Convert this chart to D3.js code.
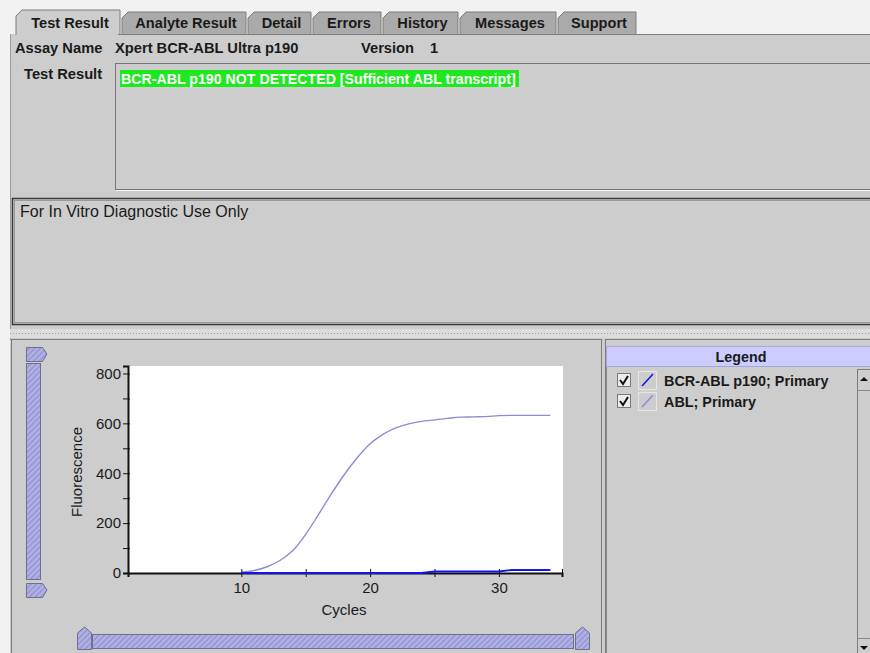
<!DOCTYPE html>
<html>
<head>
<meta charset="utf-8">
<script src="https://cdn.jsdelivr.net/npm/d3@7"></script>
<style>
	body { margin: 0; background: #f2f2f2; }
	svg text { font-family: "Liberation Sans", Arial, sans-serif; fill: #1a1a1a; }
</style>
</head>
<body>
<div id="chart"></div>
<script>
// ********** DATA **********

// Tabs across the top
const tabNames = ['Test Result', 'Analyte Result', 'Detail', 'Errors', 'History', 'Messages', 'Support'];
const tabEdges = [16, 122, 248, 313, 383, 460, 558, 638];

// Cycles and fluorescence
const cycles = [10, 11, 12, 13, 14, 15, 16, 17, 18, 19, 20, 21, 22, 23, 24, 25, 26, 27, 28, 29, 30, 31, 32, 33, 34];
const ablValues = [3, 10, 25, 50, 90, 155, 235, 318, 395, 462, 518, 556, 582, 598, 608, 614, 620, 625, 626, 627, 631, 632, 632, 632, 632];
const bcrValues = [0, 0, 0, 0, 0, 0, 0, 0, 0, 0, 0, 0, 0, 0, 0, 6, 6, 6, 6, 6, 6, 12, 12, 12, 12];

// Axis ticks
const yTicks = [0, 100, 200, 300, 400, 500, 600, 700, 800];
const xTicks = [10, 15, 20, 25, 30, 34.9];

// Legend entries
const legendNames = ['BCR-ABL p190; Primary', 'ABL; Primary'];
const legendColors = ['#1414f0', '#8c8cd8'];

// ********** DRAWING **********

const width = 870, height = 653;
const panelGrey = '#cdcdcd';

const svg = d3.select('#chart')
	.append('svg')
	.attr('width', width)
	.attr('height', height);

// Hatch pattern for the slider thumbs and tracks
const defs = svg.append('defs');
const hatch = defs.append('pattern')
	.attr('id', 'hatch')
	.attr('patternUnits', 'userSpaceOnUse')
	.attr('width', 4)
	.attr('height', 4)
	.attr('patternTransform', 'rotate(45)');
hatch.append('rect').attr('width', 4).attr('height', 4).attr('fill', '#9a9ad6');
hatch.append('rect').attr('width', 2).attr('height', 4).attr('fill', '#b2b2e6');

// Outer background and main panel
svg.append('rect').attr('width', width).attr('height', height).attr('fill', '#f2f2f2');
svg.append('rect').attr('x', 10).attr('y', 34).attr('width', width - 10).attr('height', height - 34).attr('fill', panelGrey);

// Tabs
const tabs = svg.append('g').attr('class', 'tabs');
tabNames.forEach((name, i) => {
	const x0 = tabEdges[i], x1 = tabEdges[i + 1] - 2;
	const selected = i === 0;
	const yt = selected ? 10 : 12;
	tabs.append('path')
		.attr('d', `M${x0},35 L${x0},${yt + 6} L${x0 + 6},${yt} L${x1},${yt} L${x1},35`)
		.attr('fill', selected ? panelGrey : '#aaaaaa')
		.attr('stroke', '#7c7c7c');
	tabs.append('text')
		.attr('x', (x0 + x1) / 2 + 2)
		.attr('y', 28)
		.attr('text-anchor', 'middle')
		.style('font-size', '14.6px')
		.style('font-weight', 'bold')
		.text(name);
});
svg.append('line').attr('x1', 118).attr('x2', width).attr('y1', 34.5).attr('y2', 34.5).attr('stroke', '#7c7c7c');
svg.append('line').attr('x1', 10.5).attr('x2', 10.5).attr('y1', 34).attr('y2', 340).attr('stroke', '#9a9a9a');

// Header fields
const label = (x, y, txt, bold, size) => svg.append('text')
	.attr('x', x).attr('y', y)
	.style('font-size', size + 'px')
	.style('font-weight', bold ? 'bold' : 'normal')
	.text(txt);
label(15, 53, 'Assay Name', true, 14.7);
label(115, 53, 'Xpert BCR-ABL Ultra p190', true, 14.7);
label(361, 53, 'Version', true, 14.7);
label(430, 53, '1', true, 14.7);
label(24, 79, 'Test Result', true, 14.7);

// Result box
svg.append('rect').attr('x', 115.5).attr('y', 63.5).attr('width', 770).attr('height', 126)
	.attr('fill', panelGrey).attr('stroke', '#767676');
svg.append('line').attr('x1', 116).attr('x2', width).attr('y1', 190.5).attr('y2', 190.5).attr('stroke', '#f4f4f4');
svg.append('rect').attr('x', 120).attr('y', 70).attr('width', 399).attr('height', 17).attr('fill', '#1ee81e');
svg.append('text')
	.attr('x', 121).attr('y', 83.5)
	.style('font-size', '14.2px').style('font-weight', 'bold')
	.style('fill', '#ffffff')
	.text('BCR-ABL p190 NOT DETECTED [Sufficient ABL transcript]');

// Notes box
svg.append('rect').attr('x', 12.5).attr('y', 198.5).attr('width', 870).attr('height', 126)
	.attr('fill', panelGrey).attr('stroke', '#3a3a3a').attr('stroke-width', 1.5);
svg.append('rect').attr('x', 14.5).attr('y', 200.5).attr('width', 870).attr('height', 122)
	.attr('fill', 'none').attr('stroke', '#9a9a9a');
label(20, 217, 'For In Vitro Diagnostic Use Only', false, 16);

// Splitter
svg.append('rect').attr('x', 10).attr('y', 329).attr('width', width - 10).attr('height', 9).attr('fill', '#dcdcdc');
svg.append('line').attr('x1', 10).attr('x2', width).attr('y1', 333.5).attr('y2', 333.5)
	.attr('stroke', '#9c9c9c').attr('stroke-dasharray', '1,2');

// Bottom panels
svg.append('rect').attr('x', 11.5).attr('y', 339.5).attr('width', 590).attr('height', 320)
	.attr('fill', panelGrey).attr('stroke', '#7c7c7c');
svg.append('rect').attr('x', 605.5).attr('y', 339.5).attr('width', 270).attr('height', 320)
	.attr('fill', panelGrey).attr('stroke', '#7c7c7c');

// ---------- Chart ----------
const plot = { left: 128, right: 563, top: 366, bottom: 573 };

const xScale = d3.scaleLinear().domain([1.2, 34.9]).range([plot.left, 562]);
const yScale = d3.scaleLinear().domain([0, 830]).range([plot.bottom, plot.top]);

svg.append('rect')
	.attr('x', plot.left).attr('y', plot.top)
	.attr('width', plot.right - plot.left).attr('height', plot.bottom - plot.top)
	.attr('fill', '#ffffff');

const chartData = cycles.map((c, i) => ({ cycle: c, abl: ablValues[i], bcr: bcrValues[i] }));

const line = (key, curve) => d3.line()
	.curve(curve)
	.x(d => xScale(d.cycle))
	.y(d => yScale(d[key]));

// ABL (light) then BCR-ABL (dark) on top
svg.append('path').datum(chartData)
	.attr('d', line('abl', d3.curveMonotoneX))
	.attr('fill', 'none').attr('stroke', legendColors[1]).attr('stroke-width', 1.4);

// Axes
const yAxis = d3.axisLeft(yScale)
	.tickValues(yTicks)
	.tickSizeOuter(0)
	.tickSize(5)
	.tickFormat(d => d % 200 === 0 ? d : '');
const yG = svg.append('g')
	.attr('transform', `translate(${plot.left}, 0)`)
	.call(yAxis);
yG.selectAll('.tick line').attr('x1', 2).attr('x2', -5).attr('stroke', '#111');
yG.select('.domain').attr('stroke', '#111').attr('stroke-width', 2);
yG.selectAll('.tick text').style('font-size', '15px').attr('x', -7);

const xAxis = d3.axisBottom(xScale)
	.tickValues(xTicks)
	.tickSizeOuter(0)
	.tickSize(4)
	.tickFormat(d => d % 10 === 0 ? d : '');
const xG = svg.append('g')
	.attr('transform', `translate(0, ${plot.bottom})`)
	.call(xAxis);
xG.selectAll('.tick line').attr('y1', -4).attr('y2', 4).attr('stroke', '#111');
xG.select('.domain').attr('stroke', '#111').attr('stroke-width', 2);
xG.selectAll('.tick text').style('font-size', '15px').attr('y', 9);

svg.append('path').datum(chartData)
	.attr('d', line('bcr', d3.curveLinear))
	.attr('fill', 'none').attr('stroke', legendColors[0]).attr('stroke-width', 1.8);

// Axis labels
svg.append('text')
	.attr('transform', 'rotate(-90)')
	.attr('x', -472).attr('y', 82)
	.attr('text-anchor', 'middle')
	.style('font-size', '15px')
	.text('Fluorescence');
svg.append('text')
	.attr('x', 344).attr('y', 615)
	.attr('text-anchor', 'middle')
	.style('font-size', '15px')
	.text('Cycles');

// ---------- Sliders ----------
const thumbStyle = sel => sel.attr('fill', 'url(#hatch)').attr('stroke', '#6e6e8e');

// Vertical slider
svg.append('path').attr('d', 'M26.5,347.5 L42.5,347.5 L47,354 L42.5,361.5 L26.5,361.5 Z').call(thumbStyle);
svg.append('rect').attr('x', 26.5).attr('y', 363.5).attr('width', 14).attr('height', 216).call(thumbStyle);
svg.append('path').attr('d', 'M26.5,583.5 L42.5,583.5 L47,590 L42.5,597.5 L26.5,597.5 Z').call(thumbStyle);

// Horizontal slider
svg.append('path').attr('d', 'M77.5,649.5 L77.5,633 L84.5,627 L91.5,633 L91.5,649.5 Z').call(thumbStyle);
svg.append('rect').attr('x', 92.5).attr('y', 634.5).attr('width', 481).attr('height', 14).call(thumbStyle);
svg.append('path').attr('d', 'M575.5,649.5 L575.5,633 L582.5,627 L589.5,633 L589.5,649.5 Z').call(thumbStyle);

// ---------- Legend ----------
svg.append('rect').attr('x', 606.5).attr('y', 346.5).attr('width', 270).attr('height', 20)
	.attr('fill', '#ccccff').attr('stroke', '#a8a8d8');
svg.append('text')
	.attr('x', 741).attr('y', 362)
	.attr('text-anchor', 'middle')
	.style('font-size', '14.3px').style('font-weight', 'bold')
	.text('Legend');
svg.append('line').attr('x1', 606.5).attr('x2', 606.5).attr('y1', 367).attr('y2', height).attr('stroke', '#8a8a8a');

const legendRows = svg.append('g').attr('class', 'legend')
	.selectAll('g')
	.data(legendNames)
	.enter()
	.append('g')
	.attr('transform', (d, i) => `translate(0, ${i * 21})`);

legendRows.append('rect')
	.attr('x', 617.5).attr('y', 373.5).attr('width', 13).attr('height', 13)
	.attr('fill', '#ececec').attr('stroke', '#7a7a7a');
legendRows.append('path')
	.attr('d', 'M620,380 L623,384 L628,376')
	.attr('fill', 'none').attr('stroke', '#111').attr('stroke-width', 2);
legendRows.append('rect')
	.attr('x', 638.5).attr('y', 371.5).attr('width', 18).attr('height', 18)
	.attr('fill', 'none').attr('stroke', '#e6e6e6');
legendRows.append('line')
	.attr('x1', 642).attr('y1', 386).attr('x2', 653).attr('y2', 374)
	.attr('stroke', (d, i) => legendColors[i]).attr('stroke-width', 1.6);
legendRows.append('text')
	.attr('x', 664).attr('y', 386)
	.style('font-size', '14.4px').style('font-weight', 'bold')
	.text(d => d);

// Scrollbar
svg.append('rect').attr('x', 857.5).attr('y', 369.5).attr('width', 14).attr('height', 290)
	.attr('fill', panelGrey).attr('stroke', '#7c7c7c');
svg.append('line').attr('x1', 858).attr('x2', width).attr('y1', 390.5).attr('y2', 390.5).attr('stroke', '#8a8a8a');
svg.append('line').attr('x1', 858).attr('x2', width).attr('y1', 638.5).attr('y2', 638.5).attr('stroke', '#8a8a8a');
svg.append('path').attr('d', 'M860,381 L864,377 L868,381 Z').attr('fill', '#111');
svg.append('path').attr('d', 'M860,646 L864,650 L868,646 Z').attr('fill', '#111');
</script>
</body>
</html>
